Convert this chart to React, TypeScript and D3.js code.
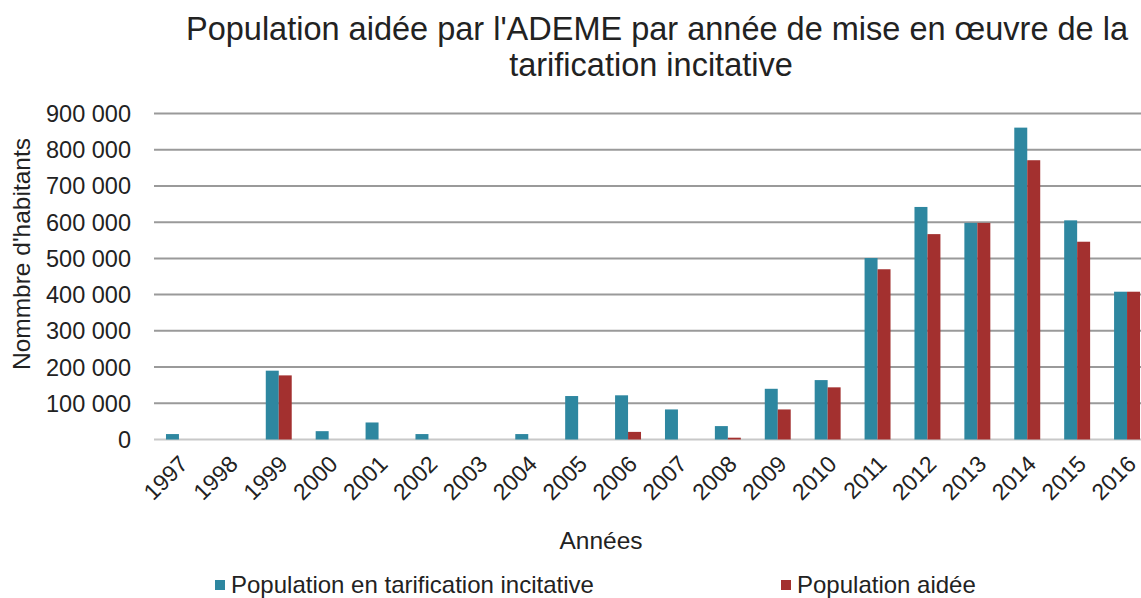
import React from "react";
import * as d3 from "d3";

const years = ["1997","1998","1999","2000","2001","2002","2003","2004","2005","2006","2007","2008","2009","2010","2011","2012","2013","2014","2015","2016"];
const popTarification = [15000,0,190000,23000,47000,15000,0,15000,120000,122000,83000,37000,140000,164000,501000,642000,598000,861000,605000,408000];
const popAidee = [0,0,177000,0,0,0,0,0,0,21000,0,5000,83000,144000,470000,567000,598000,771000,546000,408000];
const yTicks = [0,100000,200000,300000,400000,500000,600000,700000,800000,900000];
const seriesNames = ["Population en tarification incitative","Population aidée"];
const colors = ["#2E87A0","#A3302F"];

export default function App() {
  const W = 1141, H = 598;
  const left = 154, right = 1152, top = 113.5, bottom = 439.5;
  const x = d3.scaleBand<string>().domain(years).range([left, right]).paddingInner(0.48).paddingOuter(0.24);
  const x1 = d3.scaleBand<number>().domain([0, 1]).range([0, x.bandwidth()]);
  const y = d3.scaleLinear().domain([0, 900000]).range([bottom, top]);
  const fmt = (v: number) => d3.format(",")(v).replace(/,/g, " ");
  const font = "'Liberation Sans', Arial, sans-serif";
  const series = [popTarification, popAidee];
  return (
    <svg width={W} height={H} style={{ position: "absolute", left: 0, top: 0, background: "#fff" }} fontFamily={font}>
      <text x={657} y={40} textAnchor="middle" fontSize={32.5} fill="#222">Population aidée par l'ADEME par année de mise en œuvre de la</text>
      <text x={651} y={76} textAnchor="middle" fontSize={32.5} fill="#222">tarification incitative</text>
      {yTicks.map((t) => (
        <g key={t}>
          {t > 0 && <line x1={left} x2={W} y1={y(t)} y2={y(t)} stroke="#9a9a9a" strokeWidth={2} />}
          <text x={131} y={y(t)} dy="0.36em" textAnchor="end" fontSize={23.5} fill="#222">{fmt(t)}</text>
        </g>
      ))}
      <line x1={left} x2={W} y1={y(0)} y2={y(0)} stroke="#c8c8c8" strokeWidth={2} />
      {years.map((yr, i) => (
        <g key={yr}>
          {series.map((s, k) => s[i] > 0 ? (
            <rect key={k} x={(x(yr) as number) + (x1(k) as number)} y={y(s[i])} width={x1.bandwidth()} height={y(0) - y(s[i])} fill={colors[k]} />
          ) : null)}
          <text transform={`translate(${(x(yr) as number) + x.bandwidth() / 2 - 1},${454}) rotate(-45)`} textAnchor="end" dy="0.7em" fontSize={23} fill="#222">{yr}</text>
        </g>
      ))}
      <text transform={`translate(30,${254}) rotate(-90)`} textAnchor="middle" fontSize={24.5} fill="#222">Nommbre d'habitants</text>
      <text x={601} y={549} textAnchor="middle" fontSize={24.5} fill="#222">Années</text>
      {seriesNames.map((n, k) => {
        const lx = k === 0 ? 215 : 781;
        return (
          <g key={n}>
            <rect x={lx} y={580} width={10} height={10} fill={colors[k]} />
            <text x={lx + 16} y={593} fontSize={24} fill="#222">{n}</text>
          </g>
        );
      })}
    </svg>
  );
}
